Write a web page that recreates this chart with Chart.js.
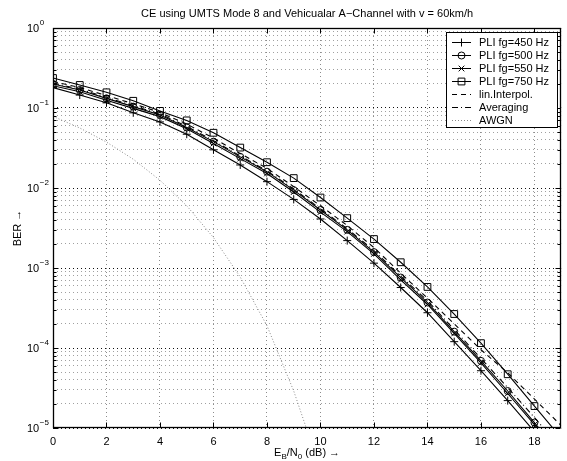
<!DOCTYPE html>
<html>
<head>
<meta charset="utf-8">
<script src="https://cdn.jsdelivr.net/npm/chart.js@4.4.1/dist/chart.umd.min.js"></script>
<style>
  html, body { margin: 0; padding: 0; background: #fff; }
</style>
</head>
<body>
<canvas id="chart" width="567" height="461"></canvas>
<script>
// Eb/N0 in dB
const ebn0 = [0, 1, 2, 3, 4, 5, 6, 7, 8, 9, 10, 11, 12, 13, 14, 15, 16, 17, 18, 19];

// BER curves
const pli450 = [0.18, 0.145, 0.116, 0.087, 0.067, 0.047, 0.030, 0.0194, 0.012, 0.0072, 0.0041, 0.0022, 0.00115, 5.7e-4, 2.76e-4, 1.2e-4, 5.2e-5, 2.2e-5, 9e-6, 3.6e-6];
const pli500 = [0.20, 0.168, 0.132, 0.104, 0.082, 0.057, 0.038, 0.0245, 0.016, 0.0094, 0.0053, 0.0030, 0.00158, 7.6e-4, 3.7e-4, 1.6e-4, 6.9e-5, 2.9e-5, 1.17e-5, 4.5e-6];
const pli550 = [0.19, 0.16, 0.125, 0.099, 0.078, 0.055, 0.036, 0.0233, 0.0152, 0.0089, 0.0050, 0.00285, 0.0015, 7.1e-4, 3.5e-4, 1.52e-4, 6.5e-5, 2.7e-5, 1.1e-5, 4.3e-6];
const pli750 = [0.237, 0.194, 0.157, 0.123, 0.092, 0.070, 0.049, 0.032, 0.021, 0.0133, 0.0076, 0.0042, 0.0023, 0.00118, 5.8e-4, 2.66e-4, 1.15e-4, 4.7e-5, 1.88e-5, 7.5e-6];
const linInterpol = [0.215, 0.18, 0.143, 0.113, 0.088, 0.063, 0.042, 0.027, 0.0176, 0.0104, 0.0060, 0.0034, 0.0018, 8.6e-4, 4.2e-4, 2.0e-4, 9.5e-5, 4.9e-5, 2.3e-5, 1.07e-5];
const averaging = [0.205, 0.172, 0.136, 0.107, 0.084, 0.059, 0.039, 0.0252, 0.0164, 0.0097, 0.0055, 0.0031, 0.00165, 7.9e-4, 3.9e-4, 1.7e-4, 7.4e-5, 3.2e-5, 1.35e-5, 5.5e-6];

const awgnEbn0 = [0, 1, 2, 3, 4, 5, 6, 7, 8, 9, 10];
const awgn = [0.0786, 0.0563, 0.0375, 0.0229, 0.0125, 0.0060, 0.0024, 7.7e-4, 1.9e-4, 2.9e-5, 3.0e-6];

// axes
const xTicks = [0, 2, 4, 6, 8, 10, 12, 14, 16, 18];
const yDecades = [0, -1, -2, -3, -4, -5];

const FONT = '"Liberation Sans", Arial, sans-serif';
const titleText = 'CE using UMTS Mode 8 and Vehicualar A\u2212Channel with v = 60km/h';

const toPts = (xs, ys) => xs.map((x, i) => ({ x: x, y: ys[i] }));

function series(label, xs, ys, extra) {
  return Object.assign({
    label: label,
    data: toPts(xs, ys),
    borderColor: '#000',
    borderWidth: 1.1,
    backgroundColor: 'transparent',
    pointBorderColor: '#000',
    pointBackgroundColor: 'transparent',
    pointBorderWidth: 1,
    pointRadius: 0,
    tension: 0,
    fill: false
  }, extra);
}

const datasets = [
  series('PLI fg=450 Hz', ebn0, pli450, { pointStyle: 'cross', pointRadius: 4 }),
  series('PLI fg=500 Hz', ebn0, pli500, { pointStyle: 'circle', pointRadius: 3.5 }),
  series('PLI fg=550 Hz', ebn0, pli550, { pointStyle: 'crossRot', pointRadius: 4 }),
  series('PLI fg=750 Hz', ebn0, pli750, { pointStyle: 'rect', pointRadius: 4.8 }),
  series('lin.Interpol.', ebn0, linInterpol, { borderDash: [5, 4] }),
  series('Averaging', ebn0, averaging, { borderDash: [6, 3, 1, 3] }),
  series('AWGN', awgnEbn0, awgn, { borderDash: [1, 2], borderColor: '#8a8a8a', borderWidth: 1 })
];

function drawMarker(ctx, style, x, y, r) {
  ctx.beginPath();
  if (style === 'cross') {
    ctx.moveTo(x - r, y); ctx.lineTo(x + r, y);
    ctx.moveTo(x, y - r); ctx.lineTo(x, y + r);
  } else if (style === 'crossRot') {
    const d = r * Math.SQRT1_2;
    ctx.moveTo(x - d, y - d); ctx.lineTo(x + d, y + d);
    ctx.moveTo(x - d, y + d); ctx.lineTo(x + d, y - d);
  } else if (style === 'circle') {
    ctx.arc(x, y, r, 0, Math.PI * 2);
  } else if (style === 'rect') {
    const s = r * Math.SQRT1_2;
    ctx.rect(x - s, y - s, 2 * s, 2 * s);
  }
  ctx.stroke();
}

const matlabFrame = {
  id: 'matlabFrame',
  afterDraw(chart) {
    const { ctx, chartArea: a, scales } = chart;
    const xs = scales.x, ys = scales.y;
    const L = Math.round(a.left) + 0.5, R = Math.round(a.right) - 0.5;
    const T = Math.round(a.top) + 0.5, B = Math.round(a.bottom) - 0.5;
    ctx.save();
    ctx.setLineDash([]);
    ctx.strokeStyle = '#000';
    ctx.lineWidth = 1;

    // tick marks pointing inward
    ctx.beginPath();
    xTicks.forEach(v => {
      const px = Math.round(xs.getPixelForValue(v)) + 0.5;
      ctx.moveTo(px, B); ctx.lineTo(px, B - 5);
      ctx.moveTo(px, T); ctx.lineTo(px, T + 5);
    });
    yDecades.forEach(e => {
      for (let m = 1; m <= 9; m++) {
        const v = m * Math.pow(10, e);
        if (v > 1.0001) break;
        const py = Math.round(ys.getPixelForValue(v)) + 0.5;
        const len = m === 1 ? 5 : 3;
        ctx.moveTo(L, py); ctx.lineTo(L + len, py);
        ctx.moveTo(R, py); ctx.lineTo(R - len, py);
      }
    });
    ctx.stroke();

    // box
    ctx.lineWidth = 1.3;
    ctx.strokeRect(L, T, R - L, B - T);

    // tick labels
    ctx.fillStyle = '#000';
    ctx.font = '11px ' + FONT;
    ctx.textAlign = 'center';
    ctx.textBaseline = 'middle';
    xTicks.forEach(v => {
      ctx.fillText(String(v), xs.getPixelForValue(v), 442);
    });
    yDecades.forEach(e => {
      const py = ys.getPixelForValue(Math.pow(10, e));
      ctx.font = '11px ' + FONT;
      ctx.textAlign = 'left';
      ctx.fillText('10', 27, py + 1);
      const w = ctx.measureText('10').width;
      ctx.font = '8px ' + FONT;
      ctx.fillText(e === 0 ? '0' : '\u2212' + (-e), 27 + w + 0.5, py - 5);
    });

    // title
    ctx.font = '11px ' + FONT;
    ctx.textAlign = 'center';
    ctx.textBaseline = 'alphabetic';
    ctx.fillText(titleText, (a.left + a.right) / 2, 17);

    // x axis title: E_B/N_0 (dB) ->
    const parts = [
      ['E', 11, 0], ['B', 8, 3], ['/N', 11, 0], ['0', 8, 3], [' (dB) \u2192', 11, 0]
    ];
    let total = 0;
    parts.forEach(p => { ctx.font = p[1] + 'px ' + FONT; total += ctx.measureText(p[0]).width; });
    let cx = (a.left + a.right) / 2 - total / 2;
    ctx.textAlign = 'left';
    parts.forEach(p => {
      ctx.font = p[1] + 'px ' + FONT;
      ctx.fillText(p[0], cx, 456 + p[2]);
      cx += ctx.measureText(p[0]).width;
    });

    // y axis title
    ctx.save();
    ctx.translate(21, (a.top + a.bottom) / 2);
    ctx.rotate(-Math.PI / 2);
    ctx.font = '11px ' + FONT;
    ctx.textAlign = 'center';
    ctx.fillText('BER \u2192', 0, 0);
    ctx.restore();

    // legend box
    const lx = 446.5, ly = 32.5, lw = 111, lh = 95;
    ctx.fillStyle = '#fff';
    ctx.fillRect(lx, ly, lw, lh);
    ctx.lineWidth = 1;
    ctx.strokeStyle = '#000';
    ctx.strokeRect(lx, ly, lw, lh);
    chart.data.datasets.forEach((ds, i) => {
      const rowY = Math.round(41.7 + 13.07 * i) + 0.5;
      ctx.strokeStyle = ds.borderColor;
      ctx.setLineDash(ds.borderDash || []);
      ctx.beginPath();
      ctx.moveTo(452, rowY); ctx.lineTo(471, rowY);
      ctx.stroke();
      ctx.setLineDash([]);
      if (ds.pointRadius > 0) {
        ctx.strokeStyle = '#000';
        drawMarker(ctx, ds.pointStyle, 461.5, rowY, ds.pointRadius);
      }
      ctx.fillStyle = '#000';
      ctx.font = '11px ' + FONT;
      ctx.textAlign = 'left';
      ctx.textBaseline = 'middle';
      ctx.fillText(ds.label, 479, rowY);
    });
    ctx.restore();
  }
};

const yGridTicks = [];
yDecades.slice().reverse().forEach(e => {
  for (let m = 1; m <= 9; m++) {
    const v = m * Math.pow(10, e);
    if (v > 1.0001) break;
    yGridTicks.push(v);
  }
});

const ctx = document.getElementById('chart').getContext('2d');
new Chart(ctx, {
  type: 'line',
  data: { datasets: datasets },
  options: {
    responsive: false,
    animation: false,
    layout: { padding: { top: 28, right: 4, left: 0, bottom: 0 } },
    plugins: {
      legend: { display: false },
      title: { display: false },
      tooltip: { enabled: false }
    },
    scales: {
      x: {
        type: 'linear',
        min: 0,
        max: 19,
        afterBuildTicks: s => { s.ticks = xTicks.map(v => ({ value: v })); },
        afterFit: s => { s.height = 33; },
        ticks: { display: false },
        grid: { color: '#8c8c8c', lineWidth: 1, drawTicks: false },
        border: { display: false, dash: [1, 3] }
      },
      y: {
        type: 'logarithmic',
        min: 1e-5,
        max: 1,
        afterBuildTicks: s => { s.ticks = yGridTicks.map(v => ({ value: v })); },
        afterFit: s => { s.width = 53; },
        ticks: { display: false },
        grid: {
          color: c => {
            const v = c.tick ? c.tick.value : 1;
            const lg = Math.log10(v);
            return Math.abs(lg - Math.round(lg)) < 1e-6 ? '#111' : '#a0a0a0';
          },
          lineWidth: 1,
          drawTicks: false
        },
        border: { display: false, dash: [1, 3] }
      }
    }
  },
  plugins: [matlabFrame]
});
</script>
</body>
</html>
